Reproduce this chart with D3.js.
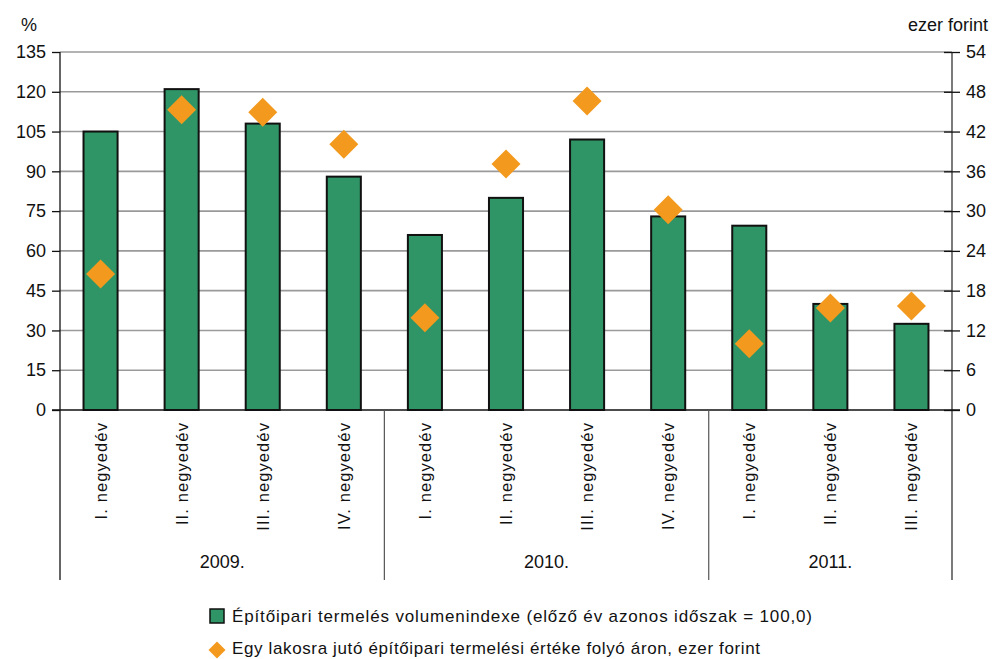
<!DOCTYPE html>
<html>
<head>
<meta charset="utf-8">
<script src="https://cdn.jsdelivr.net/npm/d3@7"></script>
<style>
  body { margin: 0; background: #fff; }
  text { font-family: "Liberation Sans", Arial, sans-serif; fill: #111; }
</style>
</head>
<body>
<div id="chartDiv"></div>
<script>

// data
var quarters = ["I. negyedév", "II. negyedév", "III. negyedév", "IV. negyedév",
                "I. negyedév", "II. negyedév", "III. negyedév", "IV. negyedév",
                "I. negyedév", "II. negyedév", "III. negyedév"];
var years = ["2009.", "2010.", "2011."];
var yearSize = [4, 4, 3];
var volumeIndex = [105, 121, 108, 88, 66, 80, 102, 73, 69.5, 40, 32.5];
var perCapita = [20.5, 45.3, 44.9, 40.1, 13.9, 37.1, 46.6, 30.2, 10, 15.4, 15.7];
var leftTicks = [0, 15, 30, 45, 60, 75, 90, 105, 120, 135];
var rightTicks = [0, 6, 12, 18, 24, 30, 36, 42, 48, 54];
var legendLabels = ["Építőipari termelés volumenindexe (előző év azonos időszak = 100,0)",
                    "Egy lakosra jutó építőipari termelési értéke folyó áron, ezer forint"];

var green = "#2f9566", orange = "#f39a1e";

var svg = d3.select("#chartDiv").append("svg")
    .attr("width", 992).attr("height", 659);

var margin = {top: 52, left: 60, right: 40, bottom: 249};
var width = 992 - margin.left - margin.right,   // 892
    height = 659 - margin.top - margin.bottom;  // 358

var g = svg.append("g").attr("transform", "translate(" + margin.left + "," + margin.top + ")");

var x_scale = d3.scaleBand().domain(d3.range(quarters.length)).range([0, width]).paddingInner(0.58).paddingOuter(0.29);
var y_left = d3.scaleLinear().domain([0, 135]).range([height, 0]);
var y_right = d3.scaleLinear().domain([0, 54]).range([height, 0]);
var step = x_scale.step();

// gridlines
g.append("g").selectAll("line").data(leftTicks.slice(1)).enter().append("line")
    .attr("x1", 0).attr("x2", width)
    .attr("y1", function(d){ return y_left(d); }).attr("y2", function(d){ return y_left(d); })
    .attr("stroke", "#9a9a9a").attr("stroke-width", 1.6);

// left axis
var leftAxis = d3.axisLeft(y_left).tickValues(leftTicks).tickSize(8).tickPadding(6);
var gl = g.append("g").call(leftAxis);
gl.select(".domain").attr("stroke", "#111").attr("stroke-width", 1.3).attr("d", "M0," + (height + 170) + "V0");
gl.selectAll(".tick line").attr("stroke", "#111").attr("stroke-width", 1.3);
gl.selectAll(".tick text").attr("font-size", 18).attr("font-family", "Liberation Sans, Arial, sans-serif").attr("fill", "#111");

// right axis
var rightAxis = d3.axisRight(y_right).tickValues(rightTicks).tickSize(8).tickPadding(6);
var gr = g.append("g").attr("transform", "translate(" + width + ",0)").call(rightAxis);
gr.select(".domain").attr("stroke", "#333").attr("stroke-width", 1.3).attr("d", "M0," + (height + 170) + "V0");
gr.selectAll(".tick line").attr("stroke", "#111").attr("stroke-width", 1.3).attr("x1", -8);
gr.selectAll(".tick text").attr("font-size", 18).attr("font-family", "Liberation Sans, Arial, sans-serif").attr("fill", "#111");

// unit labels
svg.append("text").attr("x", 29).attr("y", 31).attr("text-anchor", "middle").attr("font-size", 18).text("%");
svg.append("text").attr("x", 988).attr("y", 31).attr("text-anchor", "end").attr("font-size", 18).text("ezer forint");

// bars
g.append("g").selectAll("rect").data(volumeIndex).enter().append("rect")
    .attr("x", function(d, i){ return x_scale(i); })
    .attr("y", function(d){ return y_left(d); })
    .attr("width", x_scale.bandwidth())
    .attr("height", function(d){ return height - y_left(d); })
    .attr("fill", green).attr("stroke", "#111").attr("stroke-width", 2);

// x baseline
g.append("line").attr("x1", -8).attr("x2", width + 8).attr("y1", height).attr("y2", height)
    .attr("stroke", "#111").attr("stroke-width", 1.3);

// year separators
var start = 0;
years.forEach(function(y, k){
    var x0 = start * step, x1 = (start + yearSize[k]) * step;
    if (k > 0) {
        g.append("line").attr("x1", x0).attr("x2", x0).attr("y1", height).attr("y2", height + 170)
            .attr("stroke", "#555").attr("stroke-width", 1.2);
    }
    g.append("text").attr("x", (x0 + x1) / 2).attr("y", height + 158)
        .attr("text-anchor", "middle").attr("font-size", 18).text(y);
    start += yearSize[k];
});

// quarter labels
g.append("g").selectAll("text").data(quarters).enter().append("text")
    .attr("transform", function(d, i){ return "translate(" + (x_scale(i) + x_scale.bandwidth() / 2 + 6) + "," + (height + 12) + ") rotate(-90)"; })
    .attr("text-anchor", "end").attr("font-size", 16.5).attr("letter-spacing", 1.1)
    .text(function(d){ return d; });

// diamonds
var dSize = 14.5;
function diamond(cx, cy, r) {
    return "M" + cx + "," + (cy - r) + "L" + (cx + r) + "," + cy + "L" + cx + "," + (cy + r) + "L" + (cx - r) + "," + cy + "Z";
}
g.append("g").selectAll("path").data(perCapita).enter().append("path")
    .attr("d", function(d, i){ return diamond(x_scale(i) + x_scale.bandwidth() / 2, y_right(d), dSize); })
    .attr("fill", orange);

// legend
var lg = svg.append("g");
lg.append("rect").attr("x", 210).attr("y", 609).attr("width", 14).attr("height", 14)
    .attr("fill", green).attr("stroke", "#111").attr("stroke-width", 1.5);
lg.append("text").attr("x", 232).attr("y", 622).attr("font-size", 17)
    .attr("textLength", 580).attr("lengthAdjust", "spacing").text(legendLabels[0]);
lg.append("path").attr("d", diamond(217, 650, 8.5)).attr("fill", orange);
lg.append("text").attr("x", 232).attr("y", 654).attr("font-size", 17)
    .attr("textLength", 528).attr("lengthAdjust", "spacing").text(legendLabels[1]);

</script>
</body>
</html>
